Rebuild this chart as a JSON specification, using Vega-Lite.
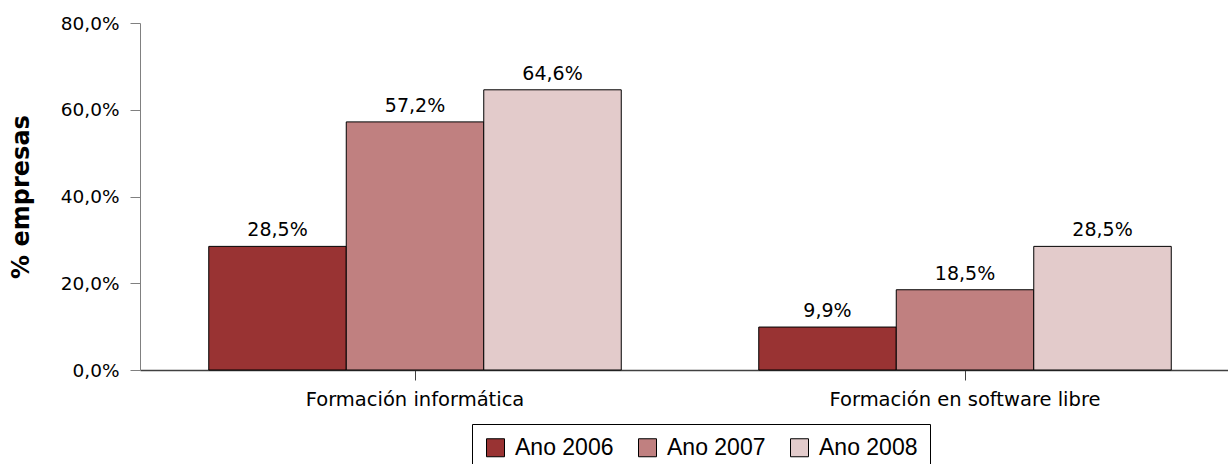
{
  "$schema": "https://vega.github.io/schema/vega-lite/v6.json",
  "width": 1088,
  "height": 347,
  "autosize": {"type": "none"},
  "padding": {"left": 140, "top": 23, "right": 0, "bottom": 94},
  "background": "white",
  "data": {
    "values": [
      {"cat": "Formación informática", "year": "Ano 2006", "v": 0.285},
      {"cat": "Formación informática", "year": "Ano 2007", "v": 0.572},
      {"cat": "Formación informática", "year": "Ano 2008", "v": 0.646},
      {"cat": "Formación en software libre", "year": "Ano 2006", "v": 0.099},
      {"cat": "Formación en software libre", "year": "Ano 2007", "v": 0.185},
      {"cat": "Formación en software libre", "year": "Ano 2008", "v": 0.285}
    ]
  },
  "encoding": {
    "x": {
      "field": "cat",
      "type": "nominal",
      "sort": null,
      "title": null,
      "scale": {"range": [0, 1100], "paddingInner": 0.25, "paddingOuter": 0.125},
      "axis": {
        "labelAngle": 0,
        "labelLimit": 0,
        "labelFont": "DejaVu Sans",
        "labelFontSize": 19.5,
        "labelColor": "black",
        "labelPadding": 10,
        "domainColor": "#404040",
        "domainWidth": 1.5,
        "tickColor": "#404040",
        "tickSize": 10,
        "grid": false
      }
    },
    "xOffset": {
      "field": "year",
      "type": "nominal",
      "sort": null,
      "scale": {"paddingInner": 0, "paddingOuter": 0}
    },
    "y": {
      "field": "v",
      "type": "quantitative",
      "scale": {"domain": [0, 0.8]},
      "title": "% empresas",
      "axis": {
        "values": [0, 0.2, 0.4, 0.6, 0.8],
        "format": ".1%",
        "labelFont": "DejaVu Sans",
        "labelFontSize": 18.5,
        "labelColor": "black",
        "labelPadding": 11,
        "tickSize": 10,
        "tickColor": "#808080",
        "domainColor": "#808080",
        "grid": false,
        "titleFont": "DejaVu Sans",
        "titleFontWeight": "bold",
        "titleFontSize": 24,
        "titleColor": "black",
        "titleAngle": 270,
        "titleAlign": "center",
        "titleBaseline": "bottom",
        "titleX": -107,
        "titleY": 173.5
      }
    }
  },
  "layer": [
    {
      "mark": {"type": "bar", "stroke": "black", "strokeWidth": 1},
      "encoding": {
        "color": {
          "field": "year",
          "type": "nominal",
          "sort": null,
          "scale": {"domain": ["Ano 2006", "Ano 2007", "Ano 2008"], "range": ["#993333", "#C08080", "#E3CBCB"]},
          "legend": {
            "orient": "none",
            "legendX": 332,
            "legendY": 401,
            "direction": "horizontal",
            "title": null,
            "strokeColor": "#000000",
            "fillColor": "white",
            "padding": 12,
            "symbolType": "square",
            "symbolSize": 324,
            "symbolStrokeColor": "black",
            "symbolStrokeWidth": 1,
            "symbolOpacity": 1,
            "labelFont": "Liberation Sans",
            "labelFontSize": 23,
            "labelColor": "black",
            "labelOffset": 8,
            "columnPadding": 22
          }
        }
      }
    },
    {
      "mark": {"type": "text", "dy": -10, "baseline": "alphabetic", "font": "DejaVu Sans", "fontSize": 19, "color": "black"},
      "encoding": {
        "text": {"field": "v", "type": "quantitative", "format": ".1%"}
      }
    }
  ],
  "config": {
    "view": {"stroke": null},
    "locale": {
      "number": {"decimal": ",", "thousands": ".", "grouping": [3], "currency": ["", " €"]}
    }
  }
}
